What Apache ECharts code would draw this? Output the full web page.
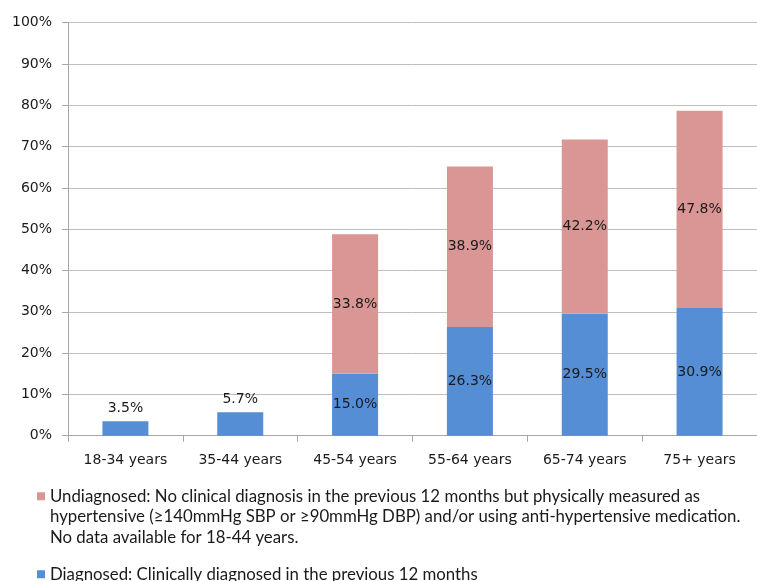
<!DOCTYPE html>
<html>
<head>
<meta charset="utf-8">
<script src="https://cdn.jsdelivr.net/npm/echarts@6/dist/echarts.min.js"></script>
<style>html,body{margin:0;padding:0;background:#fff;}#c{width:757px;height:581px;}</style>
</head>
<body>
<div id="c"></div>
<script>
const categories = ['18-34 years', '35-44 years', '45-54 years', '55-64 years', '65-74 years', '75+ years'];
const diagnosed = [3.5, 5.7, 15.0, 26.3, 29.5, 30.9];
const undiagnosed = [null, null, 33.8, 38.9, 42.2, 47.8];
const yTicks = [0, 10, 20, 30, 40, 50, 60, 70, 80, 90, 100];
const legendTexts = {
  'Undiagnosed': 'Undiagnosed: No clinical diagnosis in the previous 12 months but physically measured as\nhypertensive (\u2265140mmHg SBP or \u226590mmHg DBP) and/or using anti-hypertensive medication.\nNo data available for 18-44 years.',
  'Diagnosed': 'Diagnosed: Clinically diagnosed in the previous 12 months'
};

const BLUE = '#558ed5', PINK = '#d99694';
const labelFont = {fontFamily: 'DejaVu Sans', fontSize: 14, color: '#1a1a1a'};
const legendFont = {fontFamily: 'Lato', fontSize: 16.8, lineHeight: 20.5, color: '#1a1a1a'};

const chart = echarts.init(document.getElementById('c'), null, {renderer: 'canvas'});
chart.setOption({
  animation: false,
  grid: {left: 68, right: -11, top: 22.7, bottom: 145.3, containLabel: false},
  xAxis: {
    type: 'category', data: categories,
    axisLine: {lineStyle: {color: '#a6a6a6'}},
    axisTick: {show: true, length: 6, alignWithLabel: false, lineStyle: {color: '#a6a6a6'}},
    axisLabel: {margin: 18, fontFamily: 'DejaVu Sans', fontSize: 14, color: '#1a1a1a', interval: 0}
  },
  yAxis: {
    type: 'value', min: yTicks[0], max: yTicks[yTicks.length - 1], interval: 10,
    axisLine: {show: true, lineStyle: {color: '#a6a6a6'}},
    axisTick: {show: true, length: 6, lineStyle: {color: '#a6a6a6'}},
    splitLine: {lineStyle: {color: '#bfbfbf', width: 1}},
    axisLabel: {margin: 16, fontFamily: 'DejaVu Sans', fontSize: 14, color: '#1a1a1a', formatter: '{value}%'}
  },
  legend: [
    {
      orient: 'vertical', left: 37, top: 486, padding: 0,
      itemWidth: 8, itemHeight: 49,
      data: [{name: 'Undiagnosed', icon: 'path://M0,0H8V8H0Z M0,49L0.01,49'}],
      formatter: n => legendTexts[n],
      textStyle: legendFont
    },
    {
      orient: 'vertical', left: 37, top: 564, padding: 0,
      itemWidth: 8, itemHeight: 8,
      data: [{name: 'Diagnosed', icon: 'rect'}],
      formatter: n => legendTexts[n],
      textStyle: legendFont
    }
  ],
  series: [
    {
      name: 'Diagnosed', type: 'bar', stack: 'all', barWidth: 46,
      itemStyle: {color: BLUE},
      data: diagnosed.map((v, i) => ({
        value: v,
        label: {position: undiagnosed[i] == null ? 'top' : 'inside'}
      })),
      label: Object.assign({show: true, formatter: p => p.value.toFixed(1) + '%', distance: 6}, labelFont)
    },
    {
      name: 'Undiagnosed', type: 'bar', stack: 'all', barWidth: 46,
      itemStyle: {color: PINK},
      data: undiagnosed,
      label: Object.assign({show: true, position: 'inside', formatter: p => p.value.toFixed(1) + '%'}, labelFont)
    }
  ]
});
</script>
</body>
</html>
